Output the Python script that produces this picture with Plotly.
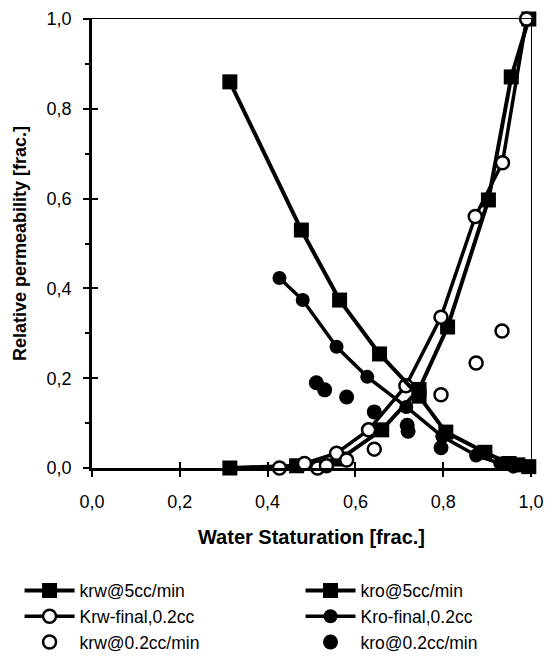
import plotly.graph_objects as go

# ---- data ----
krw5_x = [0.314, 0.466, 0.565, 0.66, 0.745, 0.81, 0.903, 0.955, 0.995]
krw5_y = [0.0, 0.005, 0.02, 0.085, 0.175, 0.314, 0.597, 0.871, 1.0]

kro5_x = [0.314, 0.477, 0.564, 0.655, 0.745, 0.806, 0.895, 0.95, 0.97, 0.995]
kro5_y = [0.86, 0.53, 0.374, 0.254, 0.16, 0.08, 0.035, 0.01, 0.007, 0.003]

krwF_x = [0.427, 0.484, 0.557, 0.63, 0.715, 0.795, 0.873, 0.935, 0.99]
krwF_y = [0.0, 0.01, 0.033, 0.085, 0.183, 0.336, 0.56, 0.68, 1.0]

kroF_x = [0.427, 0.48, 0.557, 0.627, 0.716, 0.798, 0.875, 0.93, 0.96]
kroF_y = [0.423, 0.374, 0.27, 0.203, 0.136, 0.07, 0.028, 0.01, 0.003]

krw02_x = [0.514, 0.534, 0.58, 0.643, 0.795, 0.875, 0.934]
krw02_y = [0.0, 0.005, 0.018, 0.042, 0.163, 0.234, 0.305]

kro02_x = [0.511, 0.53, 0.58, 0.643, 0.718, 0.72, 0.795]
kro02_y = [0.19, 0.174, 0.158, 0.125, 0.095, 0.082, 0.045]

x_ticks = [0.0, 0.2, 0.4, 0.6, 0.8, 1.0]
y_ticks = [0.0, 0.2, 0.4, 0.6, 0.8, 1.0]

FONT = "Liberation Sans, Arial, sans-serif"

fig = go.Figure()

# left legend column
fig.add_trace(go.Scatter(x=krw5_x, y=krw5_y, mode="lines+markers", name="krw@5cc/min",
                         legend="legend",
                         line=dict(color="black", width=4),
                         marker=dict(symbol="square", size=15, color="black"),
                         cliponaxis=False))
fig.add_trace(go.Scatter(x=krwF_x, y=krwF_y, mode="lines+markers", name="Krw-final,0.2cc",
                         legend="legend",
                         line=dict(color="black", width=3.5),
                         marker=dict(symbol="circle", size=13, color="white",
                                     line=dict(color="black", width=2.5)),
                         cliponaxis=False))
fig.add_trace(go.Scatter(x=krw02_x, y=krw02_y, mode="markers", name="krw@0.2cc/min",
                         legend="legend",
                         marker=dict(symbol="circle", size=13, color="white",
                                     line=dict(color="black", width=2.5)),
                         cliponaxis=False))
# right legend column
fig.add_trace(go.Scatter(x=kro5_x, y=kro5_y, mode="lines+markers", name="kro@5cc/min",
                         legend="legend2",
                         line=dict(color="black", width=4),
                         marker=dict(symbol="square", size=15, color="black"),
                         cliponaxis=False))
fig.add_trace(go.Scatter(x=kroF_x, y=kroF_y, mode="lines+markers", name="Kro-final,0.2cc",
                         legend="legend2",
                         line=dict(color="black", width=3.5),
                         marker=dict(symbol="circle", size=14, color="black"),
                         cliponaxis=False))
fig.add_trace(go.Scatter(x=kro02_x, y=kro02_y, mode="markers", name="kro@0.2cc/min",
                         legend="legend2",
                         marker=dict(symbol="circle", size=15, color="black"),
                         cliponaxis=False))
# helper traces so the overlay axes are drawn
fig.add_trace(go.Scatter(x=[None], y=[None], xaxis="x2", yaxis="y2", showlegend=False,
                         hoverinfo="skip"))
fig.add_trace(go.Scatter(x=[None], y=[None], xaxis="x3", yaxis="y3", showlegend=False,
                         hoverinfo="skip"))

legend_common = dict(orientation="v", yanchor="top", xanchor="left", itemwidth=50,
                     font=dict(size=17.5, family=FONT), bgcolor="rgba(0,0,0,0)",
                     tracegroupgap=0)

fig.update_layout(
    width=546, height=670,
    margin=dict(l=92, r=15, t=19, b=202, autoexpand=False),
    paper_bgcolor="white", plot_bgcolor="white",
    separators=",.",
    font=dict(family=FONT, color="black", size=16),
    xaxis=dict(range=[0, 1.0], tickvals=x_ticks, tickformat=".1f",
               showgrid=False, zeroline=False, showline=True, linecolor="black",
               linewidth=2.5, ticks="outside", ticklen=6, tickwidth=1.5, tickcolor="black",
               ticklabelstandoff=10, tickfont=dict(size=18),
               title=dict(text="<b>Water Staturation [frac.]</b>", font=dict(size=20),
                          standoff=19)),
    yaxis=dict(range=[0, 1.0], tickvals=y_ticks, tickformat=".1f",
               showgrid=False, zeroline=False, showline=True, linecolor="black",
               linewidth=2.5, ticks="outside", ticklen=6, tickwidth=1.5, tickcolor="black",
               ticklabelstandoff=8, tickfont=dict(size=18),
               minor=dict(dtick=0.1, ticks="outside", ticklen=4, tickwidth=1.5,
                          tickcolor="black"),
               title=dict(text="<b>Relative permeability [frac.]</b>", font=dict(size=18),
                          standoff=16)),
    xaxis2=dict(overlaying="x", side="bottom", range=[0, 1.0], tickvals=x_ticks,
                showticklabels=False, showgrid=False, zeroline=False, showline=False,
                ticks="inside", ticklen=6, tickwidth=1.5, tickcolor="black"),
    yaxis2=dict(overlaying="y", side="left", range=[0, 1.0], tickvals=y_ticks,
                showticklabels=False, showgrid=False, zeroline=False, showline=False,
                ticks="inside", ticklen=6, tickwidth=1.5, tickcolor="black"),
    xaxis3=dict(overlaying="x", side="top", range=[0, 1.0], showticklabels=False,
                showgrid=False, zeroline=False, showline=True, linecolor="black",
                linewidth=1.2, ticks=""),
    yaxis3=dict(overlaying="y", side="right", range=[0, 1.0], showticklabels=False,
                showgrid=False, zeroline=False, showline=True, linecolor="black",
                linewidth=1.2, ticks=""),
    legend=dict(x=-0.165, y=-0.233, **legend_common),
    legend2=dict(x=0.475, y=-0.233, **legend_common),
    showlegend=True,
)

fig.write_html("out.html")
